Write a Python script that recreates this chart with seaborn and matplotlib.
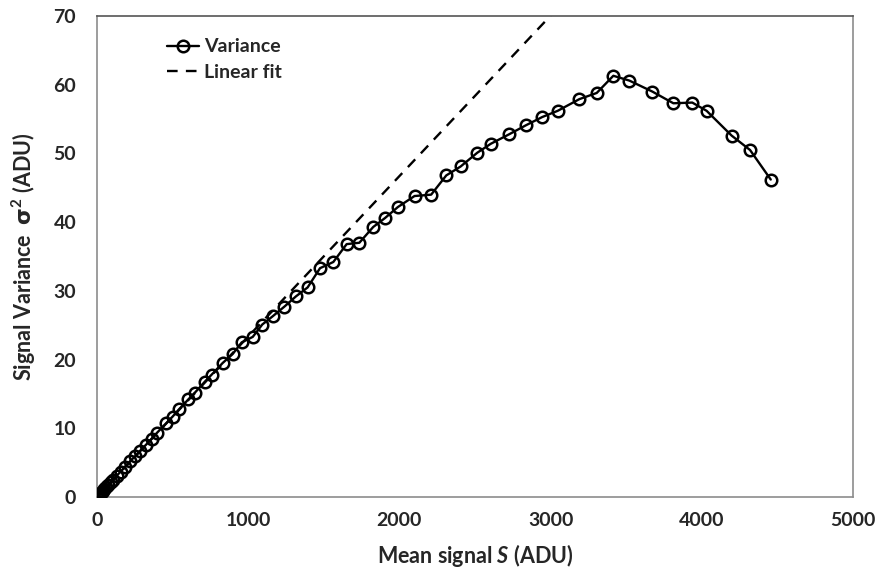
import matplotlib
matplotlib.use("Agg")
import matplotlib.pyplot as plt
import seaborn as sns
import numpy as np
import pandas as pd
from matplotlib.ticker import MultipleLocator

# ---- data ----
mean_signal = [0, 2, 4, 6, 9, 12, 16, 20, 25, 30, 38, 46, 60, 75, 90, 104, 130, 157, 185,
               218, 251, 284, 324, 362, 395, 456, 500, 544, 604, 648, 714, 758, 831, 897,
               957, 1030, 1093, 1162, 1239, 1316, 1393, 1475, 1563, 1651, 1735, 1827, 1905,
               1990, 2100, 2210, 2310, 2405, 2515, 2604, 2727, 2837, 2945, 3047, 3190, 3305,
               3415, 3521, 3673, 3812, 3937, 4032, 4197, 4319, 4456]
variance = [0.02, 0.06, 0.1, 0.15, 0.22, 0.3, 0.38, 0.48, 0.6, 0.72, 0.9, 1.1, 1.45, 1.8, 2.15,
            2.5, 3.1, 3.7, 4.4, 5.2, 5.9, 6.7, 7.6, 8.5, 9.3, 10.7, 11.7, 12.8, 14.2, 15.2,
            16.8, 17.8, 19.5, 20.8, 22.5, 23.3, 25.1, 26.3, 27.7, 29.2, 30.5, 33.3, 34.2, 36.8,
            37.0, 39.3, 40.6, 42.2, 43.8, 44.0, 46.8, 48.1, 50.1, 51.4, 52.8, 54.1, 55.3, 56.2,
            57.9, 58.8, 61.3, 60.6, 59.0, 57.3, 57.4, 56.2, 52.6, 50.5, 46.2]
fit_x = [0, 3000]
fit_y = [0, 70.05]

x_ticks = [0, 1000, 2000, 3000, 4000, 5000]
y_ticks = [0, 10, 20, 30, 40, 50, 60, 70]

sns.set_theme(style="white")
plt.rcParams['font.family'] = ['Lato', 'DejaVu Sans']
plt.rcParams['font.weight'] = 'bold'
plt.rcParams['mathtext.fontset'] = 'custom'
plt.rcParams['mathtext.rm'] = 'Lato:bold'
plt.rcParams['mathtext.it'] = 'Lato:bold:italic'
plt.rcParams['mathtext.bf'] = 'Lato:bold'
plt.rcParams['mathtext.sf'] = 'DejaVu Sans'

fig = plt.figure(figsize=(8.92, 5.71), dpi=100)
ax = fig.add_axes([97/892, 1-497/571, (853-97)/892, (497-16)/571])

df = pd.DataFrame({"S": mean_signal, "V": variance})
dff = pd.DataFrame({"S": fit_x, "V": fit_y})

sns.lineplot(data=df, x="S", y="V", ax=ax, sort=False, color="black", lw=1.7,
             marker="o", markersize=8.3, markerfacecolor="none", markeredgecolor="black",
             markeredgewidth=1.8, label="Variance", zorder=3)
sns.lineplot(data=dff, x="S", y="V", ax=ax, sort=False, color="black", lw=1.7,
             linestyle=(0, (4.5, 3.5)), label="Linear fit", zorder=2)

ax.set_xlim(0, 5000)
ax.set_ylim(0, 70)
ax.set_xticks(x_ticks)
ax.set_yticks(y_ticks)
ax.set_xticklabels([str(v) for v in x_ticks])
ax.set_yticklabels([str(v) for v in y_ticks])
ax.xaxis.set_minor_locator(MultipleLocator(200))
ax.yaxis.set_minor_locator(MultipleLocator(2))
ax.tick_params(which="both", direction="in", length=4, width=1, color="#8c8c8c")
ax.tick_params(axis="x", which="major", labelsize=14, pad=11)
ax.tick_params(axis="y", which="major", labelsize=14, pad=15)
for lab in ax.get_xticklabels() + ax.get_yticklabels():
    lab.set_fontweight("bold")

for side in ["left", "bottom", "right"]:
    ax.spines[side].set_color("#8c8c8c")
    ax.spines[side].set_linewidth(1.2)
ax.spines["top"].set_color("#555555")
ax.spines["top"].set_linewidth(1.2)

ax.set_xlabel(r"Mean signal $\mathit{S}$ (ADU)", fontsize=15.5, fontweight="bold", labelpad=9)
ax.set_ylabel(r"Signal Variance  $\mathsf{\sigma}^{2}$ (ADU)", fontsize=15.5,
              fontweight="bold", labelpad=11)

leg = ax.legend(loc="upper left", bbox_to_anchor=(0.07, 0.99), frameon=False,
                fontsize=14, handlelength=1.6, handletextpad=0.3, labelspacing=0.45)
for t in leg.get_texts():
    t.set_fontweight("bold")

fig.savefig("out.png", dpi=100)
